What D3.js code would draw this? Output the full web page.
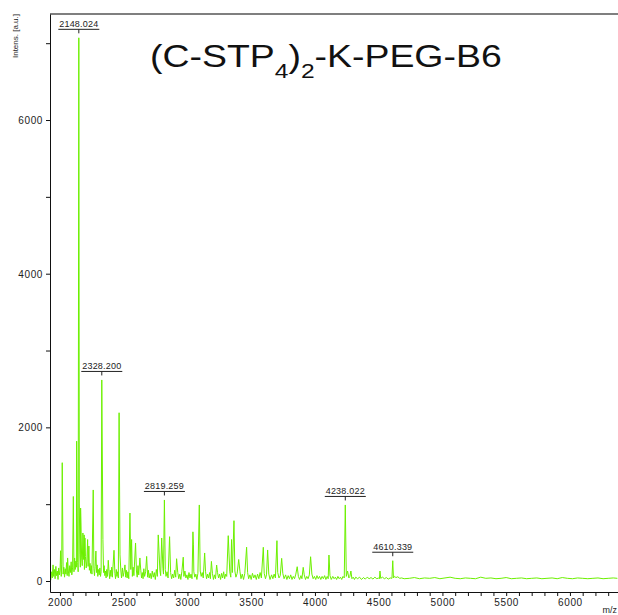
<!DOCTYPE html>
<html>
<head>
<meta charset="utf-8">
<script src="https://cdn.jsdelivr.net/npm/d3@7"></script>
<style>
  body { margin: 0; background: #fff; }
  svg { display: block; font-family: "Liberation Sans", Arial, sans-serif; }
</style>
</head>
<body>
<svg id="svg"></svg>
<script>
// peaks (m/z, intensity in a.u.)
const peakMz = [2005, 2018, 2060, 2105, 2131, 2148.024, 2152, 2162, 2165, 2180, 2190, 2196, 2217, 2227,
    2261, 2282, 2328.2, 2337, 2379, 2424, 2464, 2471, 2510, 2549, 2562, 2593, 2627, 2680, 2771, 2798,
    2819.259, 2860, 2915, 2967, 3043, 3047, 3093, 3135, 3188, 3229, 3320, 3346, 3365, 3402, 3464, 3595,
    3629, 3702, 3739, 3861, 3908, 3966, 4110, 4238.022, 4256, 4282, 4510, 4610.339];
const peakIntensity = [394, 1540, 300, 1100, 1820, 7070, 1015, 950, 755, 625, 600, 560, 540, 455,
    1185, 390, 2617, 540, 270, 400, 2190, 340, 210, 885, 540, 495, 300, 320, 600, 560,
    1055, 577, 290, 310, 640, 470, 990, 365, 255, 208, 590, 540, 785, 280, 440, 439,
    404, 525, 295, 186, 178, 316, 338, 990, 130, 130, 130, 264];

// peaks that carry an m/z annotation
const labelledMz = [2148.024, 2328.200, 2819.259, 4238.022, 4610.339];

// baseline noise between the peaks (m/z, intensity)
const noise = [
    [1928, 10], [1934, 120], [1940, 40], [1946, 210], [1951, 60], [1957, 150], [1962, 30], [1968, 190],
    [1973, 70], [1979, 130], [1985, 20], [1990, 170], [1996, 80], [2001, 140], [2010, 60], [2014, 220],
    [2025, 90], [2030, 180], [2036, 50], [2041, 160], [2047, 90], [2052, 240], [2057, 70], [2066, 130],
    [2071, 60], [2077, 200], [2082, 110], [2088, 250], [2093, 80], [2099, 170], [2110, 120], [2115, 300],
    [2120, 150], [2125, 260], [2129, 180], [2139, 240], [2143, 120], [2156, 350], [2160, 180], [2170, 300],
    [2175, 200], [2186, 280], [2192, 150], [2200, 320], [2206, 170], [2211, 260], [2221, 190], [2231, 140],
    [2236, 230], [2241, 100], [2246, 200], [2251, 90], [2266, 160], [2271, 70], [2276, 190], [2287, 110],
    [2292, 210], [2297, 60], [2302, 150], [2308, 80], [2313, 170], [2318, 60], [2323, 120], [2342, 110],
    [2347, 200], [2352, 70], [2357, 130], [2362, 40], [2367, 150], [2373, 60], [2385, 120], [2390, 30],
    [2395, 140], [2400, 60], [2406, 180], [2411, 50], [2431, 100], [2436, 30], [2442, 150], [2447, 60],
    [2452, 120], [2458, 40], [2478, 130], [2483, 40], [2490, 170], [2496, 60], [2502, 110], [2516, 50],
    [2521, 140], [2527, 40], [2533, 120], [2540, 30], [2556, 150], [2568, 60], [2574, 180], [2580, 70],
    [2600, 130], [2606, 50], [2612, 200], [2618, 80], [2634, 140], [2640, 40], [2646, 110], [2652, 30],
    [2658, 160], [2664, 60], [2672, 120], [2688, 50], [2694, 140], [2700, 40], [2708, 100], [2716, 30],
    [2724, 130], [2732, 50], [2740, 110], [2748, 20], [2756, 150], [2764, 60], [2784, 140], [2790, 70],
    [2808, 160], [2812, 90], [2826, 150], [2832, 60], [2840, 120], [2848, 40], [2868, 110], [2876, 30],
    [2884, 90], [2892, 40], [2900, 140], [2908, 50], [2924, 110], [2932, 30], [2940, 90], [2948, 20],
    [2956, 120], [2972, 60], [2980, 130], [2988, 40], [2996, 80], [3004, 20], [3012, 110], [3020, 40],
    [3028, 90], [3036, 30], [3050, 120], [3058, 50], [3066, 90], [3074, 20], [3082, 100], [3100, 130],
    [3108, 60], [3116, 110], [3124, 40], [3142, 120], [3150, 30], [3158, 90], [3166, 40], [3174, 110],
    [3180, 30], [3196, 100], [3204, 20], [3212, 80], [3220, 30], [3236, 110], [3244, 40], [3252, 90],
    [3260, 20], [3268, 100], [3276, 40], [3284, 120], [3292, 30], [3300, 90], [3308, 60], [3332, 120],
    [3340, 50], [3352, 110], [3372, 130], [3380, 50], [3390, 100], [3412, 120], [3420, 30], [3430, 90],
    [3440, 20], [3450, 100], [3472, 110], [3480, 30], [3490, 80], [3500, 20], [3510, 100], [3520, 40],
    [3530, 80], [3540, 20], [3550, 90], [3560, 30], [3570, 110], [3580, 40], [3602, 100], [3612, 30],
    [3620, 80], [3638, 90], [3648, 20], [3660, 80], [3670, 30], [3680, 90], [3690, 40], [3708, 110],
    [3718, 40], [3728, 70], [3748, 100], [3758, 30], [3770, 80], [3780, 20], [3790, 70], [3800, 30],
    [3810, 80], [3820, 20], [3830, 60], [3840, 30], [3850, 90], [3870, 60], [3880, 20], [3890, 70],
    [3898, 30], [3916, 80], [3926, 20], [3936, 60], [3946, 30], [3956, 80], [3976, 90], [3986, 30],
    [3996, 60], [4006, 20], [4016, 70], [4026, 30], [4036, 60], [4046, 20], [4056, 60], [4066, 30],
    [4076, 70], [4086, 20], [4096, 60], [4104, 30], [4118, 70], [4128, 20], [4140, 60], [4150, 30],
    [4160, 50], [4170, 20], [4180, 60], [4190, 30], [4200, 50], [4210, 20], [4220, 60], [4230, 40],
    [4246, 60], [4266, 40], [4274, 60], [4290, 30], [4300, 50], [4310, 20], [4320, 50], [4335, 30],
    [4350, 50], [4365, 20], [4380, 45], [4395, 25], [4410, 50], [4425, 30], [4440, 45], [4455, 25],
    [4470, 50], [4485, 30], [4500, 40], [4506, 30], [4516, 35], [4530, 50], [4545, 30], [4560, 45],
    [4575, 25], [4590, 40], [4604, 35], [4616, 40], [4625, 60], [4635, 45], [4650, 55], [4665, 35],
    [4680, 40], [4700, 30], [4740, 35], [4780, 45], [4820, 30], [4860, 40], [4900, 35], [4940, 45],
    [4980, 30], [5020, 40], [5060, 50], [5100, 35], [5140, 30], [5180, 40], [5220, 35], [5260, 30],
    [5300, 50], [5340, 35], [5380, 40], [5420, 30], [5460, 35], [5500, 45], [5540, 30], [5580, 35],
    [5620, 40], [5660, 30], [5700, 35], [5740, 40], [5780, 30], [5820, 35], [5860, 40], [5900, 30],
    [5940, 45], [5980, 35], [6020, 30], [6060, 40], [6100, 35], [6140, 30], [6180, 35], [6220, 40],
    [6260, 30], [6300, 35], [6340, 40], [6372, 35]
];

const xTickLabels = [2000, 2500, 3000, 3500, 4000, 4500, 5000, 5500, 6000];
const yTickLabels = [0, 2000, 4000, 6000];
const yMinorTicks = [1000, 3000, 5000, 7000];

const width = 618;
const height = 615;
const lineColour = "#6cf000";

let svg = d3.select("#svg")
    .attr("width", width)
    .attr("height", height);

let xScale = d3.scaleLinear()
    .domain([1922, 6377])
    .range([50, 618]);

let yScale = d3.scaleLinear()
    .domain([-143, 7380])
    .range([592, 14]);

// spectrum = noise floor plus peaks, in m/z order
let spectrum = noise.concat(peakMz.map((m, i) => [m, peakIntensity[i]]))
    .sort((a, b) => a[0] - b[0]);

let line = d3.line()
    .x(d => xScale(d[0]))
    .y(d => yScale(d[1]));

svg.append("path")
    .datum(spectrum)
    .attr("fill", "none")
    .attr("stroke", lineColour)
    .attr("stroke-width", 1)
    .attr("stroke-linejoin", "miter")
    .attr("d", line);

// top frame line
svg.append("line")
    .attr("x1", 50).attr("x2", 618)
    .attr("y1", 14).attr("y2", 14)
    .attr("stroke", "#555")
    .attr("stroke-width", 1.5);

// x axis, minor ticks every 100
let xAxis = svg.append("g")
    .attr("transform", "translate(0,592)")
    .call(d3.axisBottom(xScale)
        .tickValues(d3.range(2000, 6400, 100))
        .tickSize(4)
        .tickSizeOuter(0)
        .tickPadding(3)
        .tickFormat(d => xTickLabels.includes(d) ? d : ""));

// y axis
let yAxis = svg.append("g")
    .attr("transform", "translate(50,0)")
    .call(d3.axisLeft(yScale)
        .tickValues(yTickLabels.concat(yMinorTicks))
        .tickSize(4)
        .tickSizeOuter(0)
        .tickPadding(3)
        .tickFormat(d => yTickLabels.includes(d) ? d : ""));

svg.selectAll(".tick text")
    .attr("fill", "#222")
    .style("font-size", "10px")
    .style("letter-spacing", "0.6px")
    .style("font-family", "'Liberation Sans', Arial, sans-serif");
yAxis.selectAll(".tick text").attr("dy", "0.35em");
svg.selectAll(".domain, .tick line").attr("stroke", "#111");

// axis titles
svg.append("text")
    .attr("transform", "translate(18,14) rotate(-90)")
    .attr("text-anchor", "end")
    .style("font-size", "8px")
    .attr("fill", "#222")
    .text("Intens. [a.u.]");

svg.append("text")
    .attr("x", 617)
    .attr("y", 613)
    .attr("text-anchor", "end")
    .style("font-size", "9px")
    .attr("fill", "#222")
    .text("m/z");

// peak annotations: value, underline and small tick above the peak
let labels = svg.append("g");
labelledMz.forEach(m => {
    let h = peakIntensity[peakMz.indexOf(m)];
    let px = xScale(m);
    let py = yScale(h) - 8.5;
    labels.append("line")
        .attr("x1", px - 20.5).attr("x2", px + 20.5)
        .attr("y1", py).attr("y2", py)
        .attr("stroke", "#222");
    labels.append("line")
        .attr("x1", px).attr("x2", px)
        .attr("y1", py).attr("y2", py + 4)
        .attr("stroke", "#222");
    labels.append("text")
        .attr("x", px)
        .attr("y", py - 2)
        .attr("text-anchor", "middle")
        .style("font-size", "9px")
        .style("letter-spacing", "0.2px")
        .attr("fill", "#222")
        .text(m.toFixed(3));
});

// sample name
let title = svg.append("g")
    .attr("transform", "translate(150,67) scale(1.17,1)")
    .append("text")
    .style("font-size", "32px")
    .attr("fill", "#111");
title.append("tspan").text("(C-STP");
title.append("tspan").attr("dy", 11).style("font-size", "21px").text("4");
title.append("tspan").attr("dy", -11).text(")");
title.append("tspan").attr("dy", 11).style("font-size", "21px").text("2");
title.append("tspan").attr("dy", -11).text("-K-PEG-B6");
</script>
</body>
</html>
